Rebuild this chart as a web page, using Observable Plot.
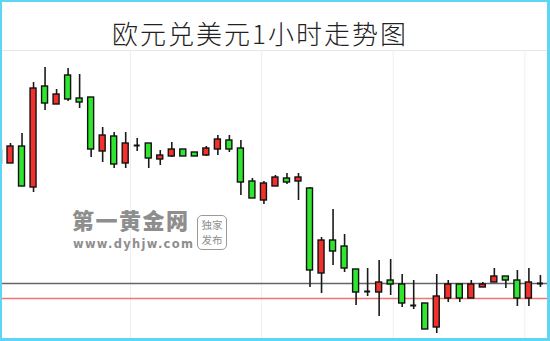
<!DOCTYPE html>
<html>
<head>
<meta charset="utf-8">
<script src="https://cdn.jsdelivr.net/npm/d3@7"></script>
<script src="https://cdn.jsdelivr.net/npm/@observablehq/plot@0.6"></script>
<style>
  html, body { margin: 0; padding: 0; background: #fff; }
  #page { position: relative; width: 550px; height: 341px; overflow: hidden; background: #fff; }
  #title {
    position: absolute; left: 112px; top: 20px; margin: 0;
    font-family: "Noto Sans CJK SC", sans-serif; font-weight: 300;
    font-size: 26px; line-height: 26px; letter-spacing: 2px; color: #222; white-space: nowrap;
  }
  #chart { position: absolute; left: 0; top: 44px; }
  #mark { position: absolute; left: 72px; top: 210px; color: #8e8e8e; }
  #mark .brand { font-family: "DejaVu Sans", "Noto Sans CJK SC", sans-serif; font-weight: 900; font-size: 22px; line-height: 24px; letter-spacing: 1.5px; white-space: nowrap; }
  #mark .site { font-family: "DejaVu Sans", sans-serif; font-weight: bold; font-size: 11.5px; line-height: 13px; letter-spacing: 1.3px; margin-top: 4px; margin-left: 1px; white-space: nowrap; }
  #mark .stamp {
    position: absolute; left: 125px; top: 5px; width: 30px; height: 35px; box-sizing: border-box;
    border: 1.5px solid #9a9a9a; border-radius: 5px;
    font-family: "Noto Sans CJK SC", sans-serif; font-size: 10.5px; line-height: 15px; text-align: center; padding-top: 1px;
  }
  #border { position: absolute; left: 0; top: 0; width: 550px; height: 341px; box-sizing: border-box; border: 2px solid #5cd6f3; border-right-width: 3px; border-bottom-width: 3px; pointer-events: none; }
</style>
</head>
<body>
<div id="page">
  <div id="title">欧元兑美元1小时走势图</div>
  <div id="chart"></div>
  <div id="mark">
    <div class="brand">第一黄金网</div>
    <div class="site">www.dyhjw.com</div>
    <div class="stamp">独家<br>发布</div>
  </div>
  <div id="border"></div>
</div>
<script>
// EUR/USD hourly bars, oldest first (bar -1 is cut off at the left edge)
const bars   = [-1, 0, 1, 2, 3, 4, 5, 6, 7, 8, 9, 10, 11, 12, 13, 14, 15, 16, 17, 18, 19, 20, 21, 22, 23,
                24, 25, 26, 27, 28, 29, 30, 31, 32, 33, 34, 35, 36, 37, 38, 39, 40, 41, 42, 43, 44, 45, 46];
const opens  = [1.1137, 1.1137, 1.1154, 1.1113, 1.1214, 1.1196, 1.1225, 1.1202, 1.1203, 1.1149, 1.1164, 1.1137,
                1.1155, 1.1157, 1.1141, 1.1144, 1.1151, 1.1148, 1.1145, 1.1151, 1.1160, 1.1152, 1.1119, 1.1100,
                1.1114, 1.1122, 1.1119, 1.1112, 1.1027, 1.1060, 1.1054, 1.1031, 1.1009, 1.1008, 1.1020, 1.1016,
                1.0995, 1.0997, 1.0973, 1.1002, 1.1016, 1.1002, 1.1013, 1.1018, 1.1024, 1.1020, 1.1002, 1.1017];
const highs  = [1.1150, 1.1157, 1.1167, 1.1218, 1.1233, 1.1211, 1.1232, 1.1226, 1.1203, 1.1173, 1.1168, 1.1168,
                1.1162, 1.1157, 1.1150, 1.1158, 1.1151, 1.1148, 1.1154, 1.1165, 1.1165, 1.1160, 1.1122, 1.1119,
                1.1125, 1.1127, 1.1127, 1.1113, 1.1063, 1.1091, 1.1066, 1.1031, 1.1032, 1.1040, 1.1041, 1.1026,
                1.1020, 1.0997, 1.1026, 1.1020, 1.1016, 1.1020, 1.1018, 1.1032, 1.1024, 1.1030, 1.1032, 1.1025];
const lows   = [1.1137, 1.1137, 1.1114, 1.1108, 1.1190, 1.1196, 1.1199, 1.1192, 1.1143, 1.1138, 1.1132, 1.1132,
                1.1149, 1.1132, 1.1135, 1.1143, 1.1144, 1.1144, 1.1144, 1.1145, 1.1148, 1.1105, 1.1102, 1.1096,
                1.1114, 1.1116, 1.1100, 1.1013, 1.1007, 1.1035, 1.1028, 1.0995, 1.1004, 1.0984, 1.1005, 1.0993,
                1.0991, 1.0971, 1.0967, 1.0998, 1.0998, 1.1002, 1.1013, 1.1018, 1.1012, 1.0994, 1.0994, 1.1013];
const closes = [1.1150, 1.1154, 1.1114, 1.1212, 1.1197, 1.1206, 1.1201, 1.1198, 1.1151, 1.1165, 1.1136, 1.1157,
                1.1155, 1.1142, 1.1145, 1.1151, 1.1144, 1.1144, 1.1152, 1.1161, 1.1151, 1.1118, 1.1102, 1.1117,
                1.1123, 1.1118, 1.1123, 1.1030, 1.1060, 1.1049, 1.1032, 1.1008, 1.1009, 1.1018, 1.1016, 1.0997,
                1.0995, 1.0971, 1.1004, 1.1016, 1.1002, 1.1016, 1.1016, 1.1024, 1.1020, 1.1002, 1.1018, 1.1017];

// horizontal price levels: resistance (grey) and support (red)
const levels = [1.1017, 1.1002];
const levelColors = ["#666666", "#f07676"];
// vertical grid positions, in bar units
const gridBars = [10.42, 21.8, 33.22, 44.65];
const frameTop = 1.1250;

const up = "#f2302c", down = "#2fe62f";
const candles = bars.map((b, k) => ({bar: b, open: opens[k], high: highs[k], low: lows[k], close: closes[k]}));
const half = 0.26;

const chart = Plot.plot({
  width: 550,
  height: 297,
  margin: 0,
  x: {domain: [-0.868, 46.875], axis: null},
  y: {domain: [1.0959, 1.1256], axis: null},
  marks: [
    Plot.ruleY([frameTop], {stroke: "#e6e6e6", strokeWidth: 1}),
    Plot.ruleX(gridBars, {y1: frameTop, y2: 1.0959, stroke: "#eeeeee", strokeWidth: 1}),
    Plot.ruleY(levels, {y: d => d, stroke: (d, i) => levelColors[i], strokeWidth: 1.6}),
    Plot.ruleX(candles, {x: "bar", y1: "low", y2: "high", stroke: "#1a1a1a", strokeWidth: 1.6, clip: true}),
    Plot.rect(candles.filter(d => d.open !== d.close), {
      x1: d => d.bar - half, x2: d => d.bar + half,
      y1: "open", y2: "close",
      fill: d => d.close > d.open ? up : down,
      stroke: "#111", strokeWidth: 1.4, clip: true
    }),
    Plot.ruleY(candles.filter(d => d.open === d.close), {
      y: "close", x1: d => d.bar - half, x2: d => d.bar + half,
      stroke: "#111", strokeWidth: 2
    })
  ]
});
document.getElementById("chart").append(chart);
</script>
</body>
</html>
